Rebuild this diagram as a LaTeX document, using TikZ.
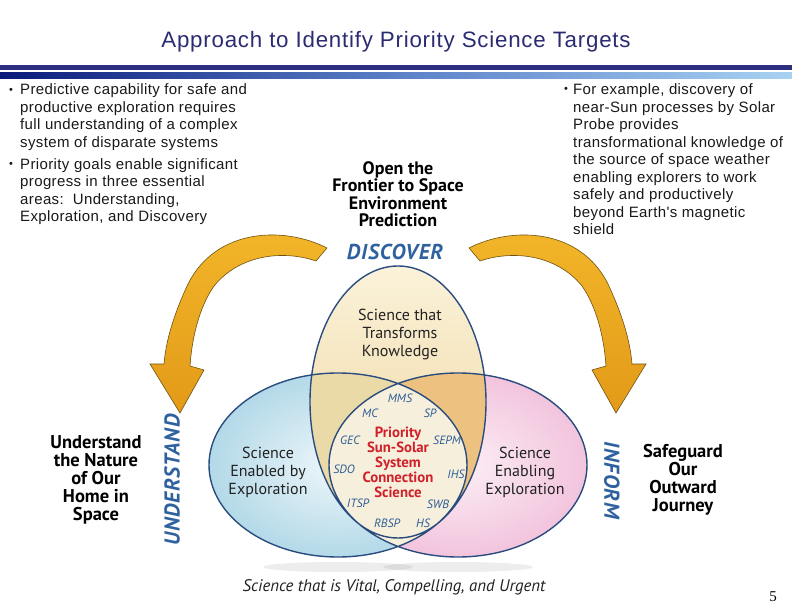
\documentclass[tikz,border=0pt]{standalone}
\usepackage{fontspec}
\setmainfont{Liberation Sans}
\newfontfamily\bodyfont[LetterSpace=2.5]{Liberation Sans}
\newfontfamily\titlefont[LetterSpace=3.5]{Liberation Sans}
\newfontfamily\dfont{PT Sans}
\newfontfamily\dfontsp[LetterSpace=4]{PT Sans}
\newfontfamily\serifnum{Liberation Serif}
\usetikzlibrary{shapes.geometric}

\definecolor{titleblue}{HTML}{2B2B73}
\definecolor{navyband}{HTML}{2E2E80}
\definecolor{bandL}{HTML}{0A1A7A}
\definecolor{bandM}{HTML}{5A80C8}
\definecolor{bandR}{HTML}{A8D2F2}
\definecolor{vennline}{HTML}{2B4C7E}
\definecolor{blueIn}{HTML}{EEF7FA}
\definecolor{blueOut}{HTML}{B3D9E8}
\definecolor{pinkIn}{HTML}{FCEFF6}
\definecolor{pinkOut}{HTML}{F2C4DD}
\definecolor{yelTop}{HTML}{FAF2DA}
\definecolor{yelBot}{HTML}{EFD397}
\definecolor{tanC}{HTML}{EADAA8}
\definecolor{oraC}{HTML}{EDC280}
\definecolor{creamC}{HTML}{F6EFDC}
\definecolor{goldA}{HTML}{F2B62A}
\definecolor{goldB}{HTML}{E39A18}
\definecolor{goldline}{HTML}{6E5210}
\definecolor{wordblue}{HTML}{2F619F}
\definecolor{prired}{HTML}{D0202A}
\definecolor{misblue}{HTML}{2E5C96}
\definecolor{dtext}{HTML}{222222}

\newcommand\leftE{(338,465) ellipse [x radius=129, y radius=92]}
\newcommand\rightE{(458,465) ellipse [x radius=129, y radius=92]}
\newcommand\topE{(398,402) ellipse [x radius=88, y radius=136]}
\newcommand\goldarrowpath{(327,248) .. controls (284,226) and (216,228) .. (188,284)
  .. controls (174,314) and (166,340) .. (164,364) -- (150,364) -- (180,413) -- (204,370) -- (190,366)
  .. controls (192,336) and (200,306) .. (214,286) .. controls (240,254) and (284,250) .. (316,261) -- cycle}

\tikzset{
  bul/.style={font=\bodyfont\fontsize{15}{17.5}\selectfont, align=left, inner sep=0pt, anchor=west, text=black!90},
  dot/.style={font=\fontsize{11}{12}\selectfont, inner sep=0pt, text=black!90},
  heading/.style={font=\dfont\bfseries\fontsize{18}{17.5}\selectfont, align=center, inner sep=0pt, text=black},
  area/.style={font=\dfont\fontsize{16}{18}\selectfont, align=center, inner sep=0pt, text=dtext},
  verb/.style={font=\dfontsp\bfseries\itshape\fontsize{21.5}{24}\selectfont, inner sep=0pt, text=wordblue},
  mission/.style={font=\dfont\itshape\fontsize{12}{13}\selectfont, inner sep=0pt, text=misblue},
  arrowbody/.style={top color=goldA, bottom color=goldB, draw=goldline, line width=0.6pt}
}

\begin{document}
\begin{tikzpicture}[x=1pt, y=-1pt]
\useasboundingbox[fill=white] (0,0) rectangle (792,612);

% title and bands
\node[font=\titlefont\fontsize{22.3}{25}\selectfont, text=titleblue, inner sep=0pt] (title) at (396,42) {Approach to Identify Priority Science Targets};
\fill[navyband] (0,65) rectangle (792,70.5);
\shade[left color=bandL, right color=bandR, middle color=bandM] (0,73) rectangle (792,78.5);

% bullet texts
\node[dot] (d1) at (11,91) {•};
\node[bul] (b1) at (20,117) {Predictive capability for safe and\\productive exploration requires\\full understanding of a complex\\system of disparate systems};
\node[dot] (d2) at (11,165) {•};
\node[bul] (b2) at (20,191.5) {Priority goals enable significant\\progress in three essential\\areas:\ \ Understanding,\\Exploration, and Discovery};
\node[dot] (d3) at (566,90) {•};
\node[bul] (b3) at (573,159.5) {For example, discovery of\\near-Sun processes by Solar\\Probe provides\\transformational knowledge of\\the source of space weather\\enabling explorers to work\\safely and productively\\beyond Earth's magnetic\\shield};

% heading
\node[heading] (open) at (398,194) {Open the\\Frontier to Space\\Environment\\Prediction};
\node[verb] (disc) at (395,252) {DISCOVER};

% gold arrows
\path[arrowbody] \goldarrowpath;
\begin{scope}[shift={(796,0)}, xscale=-1]
\path[arrowbody] \goldarrowpath;
\end{scope}

% shadows
\fill[black, opacity=0.07] (338,567) ellipse [x radius=75, y radius=5];
\fill[black, opacity=0.07] (458,567) ellipse [x radius=75, y radius=5];

% venn
\shade[inner color=blueIn, outer color=blueOut] \leftE;
\shade[inner color=pinkIn, outer color=pinkOut] \rightE;
\shade[top color=yelTop, bottom color=yelBot] \topE;
\begin{scope}
  \clip \topE;
  \fill[tanC] \leftE;
  \fill[oraC] \rightE;
\end{scope}
\begin{scope}
  \clip \leftE;
  \fill[creamC] \rightE;
\end{scope}
\draw[vennline, line width=1.4pt] \leftE \rightE \topE;

% venn labels
\node[area] (know) at (400,334) {Science that\\Transforms\\Knowledge};
\node[area] (enabled) at (268,472) {Science\\Enabled by\\Exploration};
\node[area] (enabling) at (525,472) {Science\\Enabling\\Exploration};
\node[font=\dfont\bfseries\fontsize{14.8}{15}\selectfont, align=center, inner sep=0pt, text=prired] (prio) at (398,462.5) {Priority\\Sun-Solar\\System\\Connection\\Science};

\node[mission] (mms) at (400,398) {MMS};
\node[mission] (mc) at (370,413) {MC};
\node[mission] (sp) at (430,413) {SP};
\node[mission] (gec) at (350,440) {GEC};
\node[mission] (sepm) at (447,440) {SEPM};
\node[mission] (sdo) at (344,469) {SDO};
\node[mission] (ihs) at (456,474) {IHS};
\node[mission] (itsp) at (358,503) {ITSP};
\node[mission] (swb) at (438,504) {SWB};
\node[mission] (rbsp) at (387,523) {RBSP};
\node[mission] (hs) at (423,523) {HS};

% side labels
\node[verb, rotate=90] (und) at (172,480) {UNDERSTAND};
\node[verb, rotate=-90] (inf) at (612,480) {INFORM};
\node[heading, font=\dfont\bfseries\fontsize{18.5}{18}\selectfont] (home) at (96,480) {Understand\\the Nature\\of Our\\Home in\\Space};
\node[heading, font=\dfont\bfseries\fontsize{18.5}{18}\selectfont] (safe) at (683,480) {Safeguard\\Our\\Outward\\Journey};

% bottom
\node[font=\dfont\itshape\fontsize{16.8}{18}\selectfont, inner sep=0pt, text=dtext] (vital) at (394,587) {Science that is Vital, Compelling, and Urgent};
\node[font=\serifnum\fontsize{15}{18}\selectfont, inner sep=0pt] (pg) at (773,597) {5};
\end{tikzpicture}
\end{document}
